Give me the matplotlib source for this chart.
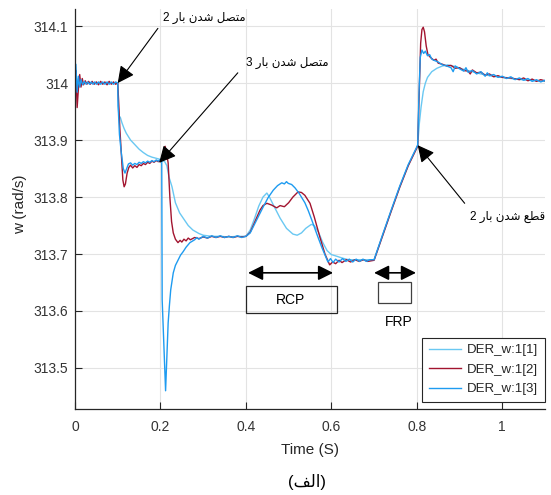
import matplotlib
matplotlib.use("Agg")
import matplotlib.pyplot as plt
from matplotlib.patches import Rectangle

# ---------------- data ----------------
t1 = [0, 0.002, 0.005, 0.008, 0.011, 0.015, 0.02, 0.03, 0.04, 0.05, 0.06, 0.07, 0.08, 0.09, 0.1,
      0.101, 0.103, 0.106, 0.11, 0.115, 0.12, 0.13, 0.14, 0.15, 0.16, 0.17, 0.18, 0.19, 0.2,
      0.21, 0.215, 0.22, 0.227, 0.235, 0.245, 0.255, 0.265, 0.276, 0.29, 0.30, 0.32, 0.34, 0.36, 0.38, 0.4,
      0.41, 0.42, 0.43, 0.44, 0.449, 0.455, 0.465, 0.48, 0.495, 0.51, 0.52, 0.53, 0.54, 0.553, 0.56,
      0.57, 0.58, 0.59, 0.6, 0.613, 0.625, 0.64, 0.66, 0.68, 0.7,
      0.72, 0.74, 0.76, 0.78, 0.8, 0.802,
      0.806, 0.81, 0.815, 0.82, 0.825, 0.835, 0.847, 0.86, 0.872, 0.89, 0.91, 0.93, 0.95, 0.97,
      1.0, 1.03, 1.06, 1.1]
w1 = [314.0, 314.02, 313.985, 314.008, 313.995, 314.003, 313.999, 314.001, 314.0, 314.001, 313.999, 314.0, 314.001, 313.999, 314.0,
      313.96, 313.942, 313.94, 313.93, 313.92, 313.912, 313.9, 313.892, 313.884, 313.878, 313.873, 313.870, 313.868, 313.866,
      313.862, 313.855, 313.835, 313.818, 313.79, 313.772, 313.761, 313.75, 313.742, 313.736, 313.733, 313.731, 313.731, 313.730, 313.731, 313.731,
      313.742, 313.762, 313.784, 313.800, 313.807, 313.80, 313.785, 313.763, 313.745, 313.735, 313.733, 313.737, 313.745, 313.752, 313.75,
      313.738, 313.72, 313.706, 313.699, 313.696, 313.693, 313.69, 313.690, 313.69, 313.69,
      313.733, 313.776, 313.818, 313.856, 313.887, 313.891,
      313.93, 313.958, 313.985, 314.0, 314.01, 314.02, 314.026, 314.03, 314.032, 314.029, 314.024, 314.02, 314.016, 314.013,
      314.01, 314.007, 314.005, 314.003]

t2 = [0, 0.002, 0.005, 0.008, 0.011, 0.014, 0.017, 0.02, 0.024, 0.028, 0.032, 0.036, 0.04, 0.045, 0.05,
      0.055, 0.06, 0.065, 0.07, 0.075, 0.08, 0.085, 0.09, 0.095, 0.1,
      0.102, 0.105, 0.108, 0.112, 0.115, 0.118, 0.122, 0.126, 0.13, 0.135, 0.14, 0.145, 0.15, 0.155,
      0.16, 0.165, 0.17, 0.175, 0.18, 0.185, 0.19, 0.195, 0.2, 0.204, 0.208, 0.211, 0.214, 0.218,
      0.222, 0.226, 0.23, 0.235, 0.241, 0.246, 0.25, 0.255, 0.26, 0.265, 0.27, 0.28, 0.29, 0.3,
      0.31, 0.32, 0.33, 0.34, 0.35, 0.36, 0.37, 0.38, 0.39, 0.4,
      0.41, 0.42, 0.433, 0.44, 0.449, 0.46, 0.472, 0.48, 0.49, 0.5, 0.51, 0.522, 0.53, 0.538, 0.545,
      0.55, 0.56, 0.573, 0.585, 0.596, 0.603, 0.61, 0.618, 0.625, 0.635, 0.645, 0.655, 0.665, 0.675, 0.685, 0.7,
      0.72, 0.74, 0.76, 0.78, 0.8, 0.802,
      0.806, 0.809, 0.812, 0.815, 0.818, 0.822, 0.826, 0.832, 0.84, 0.845, 0.85, 0.86, 0.87, 0.88,
      0.89, 0.9, 0.91, 0.92, 0.925, 0.93, 0.94, 0.95, 0.96, 0.97, 0.98, 0.99, 1.0, 1.02, 1.04,
      1.05, 1.06, 1.07, 1.08, 1.09, 1.1]
w2 = [314.0, 314.022, 313.957, 313.99, 314.015, 313.993, 314.008, 313.997, 314.004, 313.998, 314.003, 313.998, 314.003, 313.998, 314.002,
      313.997, 314.003, 313.998, 314.002, 313.997, 314.003, 313.998, 314.002, 313.998, 314.0,
      313.97, 313.92, 313.88, 313.83, 313.818, 313.823, 313.842, 313.852, 313.856, 313.851, 313.855, 313.852, 313.857, 313.855,
      313.859, 313.857, 313.861, 313.859, 313.863, 313.861, 313.864, 313.862, 313.865, 313.866, 313.884, 313.889, 313.878, 313.86,
      313.80, 313.757, 313.737, 313.726, 313.72, 313.724, 313.721, 313.726, 313.723, 313.728, 313.725, 313.729, 313.727, 313.73,
      313.728, 313.731, 313.729, 313.731, 313.729, 313.731, 313.729, 313.731, 313.73, 313.731,
      313.738, 313.755, 313.777, 313.785, 313.789, 313.786, 313.781, 313.785, 313.783, 313.79, 313.8, 313.809, 313.808, 313.803, 313.795,
      313.789, 313.765, 313.73, 313.70, 313.681, 313.686, 313.683, 313.689, 313.685, 313.69, 313.686, 313.69, 313.687, 313.69, 313.687, 313.689,
      313.732, 313.775, 313.817, 313.855, 313.886, 313.89,
      313.99, 314.07, 314.094, 314.098, 314.09, 314.065, 314.05, 314.045, 314.04, 314.042, 314.035, 314.033, 314.03, 314.031,
      314.026, 314.027, 314.022, 314.021, 314.016, 314.023, 314.018, 314.019, 314.014, 314.016, 314.011, 314.013, 314.01, 314.009, 314.006,
      314.009, 314.004, 314.007, 314.003, 314.006, 314.004]

t3 = [0, 0.002, 0.005, 0.008, 0.011, 0.014, 0.018, 0.022, 0.026, 0.03, 0.034, 0.038, 0.042, 0.046, 0.05,
      0.055, 0.06, 0.065, 0.07, 0.075, 0.08, 0.085, 0.09, 0.095, 0.1,
      0.101, 0.104, 0.108, 0.113, 0.117, 0.121, 0.125, 0.13, 0.135, 0.14, 0.145, 0.15, 0.155, 0.16,
      0.165, 0.17, 0.175, 0.18, 0.185, 0.19, 0.195, 0.2, 0.203,
      0.204, 0.212, 0.215, 0.218, 0.221, 0.224, 0.23, 0.235, 0.241, 0.247, 0.253, 0.26, 0.269,
      0.28, 0.285, 0.29, 0.3, 0.31, 0.32, 0.33, 0.34, 0.35, 0.36, 0.37, 0.38, 0.39, 0.4,
      0.41, 0.42, 0.43, 0.44, 0.452, 0.464, 0.474, 0.484, 0.49, 0.495, 0.499, 0.507, 0.515, 0.525, 0.538,
      0.546, 0.554, 0.566, 0.578, 0.592, 0.598, 0.604, 0.61, 0.618, 0.626, 0.634, 0.642, 0.65, 0.658,
      0.666, 0.674, 0.682, 0.69, 0.7,
      0.72, 0.74, 0.76, 0.78, 0.8, 0.802,
      0.805, 0.808, 0.812, 0.816, 0.82, 0.825, 0.83, 0.835, 0.84, 0.85, 0.86, 0.87, 0.88, 0.885,
      0.89, 0.9, 0.91, 0.915, 0.92, 0.93, 0.94, 0.95, 0.96, 0.965, 0.97, 0.98, 0.99, 1.0,
      1.01, 1.02, 1.03, 1.04, 1.05, 1.06, 1.07, 1.08, 1.09, 1.1]
w3 = [313.99, 314.033, 313.984, 314.012, 313.993, 314.006, 313.997, 314.003, 313.998, 314.002, 313.998, 314.002, 313.998, 314.002, 313.998,
      314.002, 313.998, 314.002, 313.998, 314.002, 313.998, 314.002, 313.998, 314.002, 314.0,
      313.96, 313.91, 313.88, 313.85, 313.842, 313.85, 313.858, 313.86, 313.856, 313.859, 313.857, 313.861, 313.859, 313.862,
      313.86, 313.863, 313.861, 313.864, 313.862, 313.865, 313.863, 313.866, 313.866,
      313.62, 313.46, 313.52, 313.579, 313.61, 313.637, 313.667, 313.68, 313.689, 313.698, 313.704, 313.712, 313.72,
      313.725, 313.729, 313.726, 313.731, 313.728, 313.732, 313.729, 313.732, 313.729, 313.731, 313.729, 313.732, 313.729, 313.731,
      313.737, 313.752, 313.767, 313.782, 313.799, 313.812, 313.82, 313.825, 313.823, 313.827, 313.824, 313.822, 313.816, 313.806, 313.79,
      313.776, 313.76, 313.735, 313.711, 313.686, 313.692, 313.685, 313.691, 313.686, 313.692, 313.687, 313.691, 313.686, 313.691,
      313.687, 313.691, 313.687, 313.69, 313.69,
      313.734, 313.777, 313.819, 313.857, 313.888, 313.891,
      313.98, 314.045, 314.058, 314.052, 314.056, 314.048, 314.05, 314.042, 314.04, 314.037, 314.032, 314.03, 314.027, 314.02,
      314.03, 314.025, 314.021, 314.027, 314.019, 314.022, 314.016, 314.02, 314.012, 314.018, 314.013, 314.015, 314.01, 314.012,
      314.008, 314.011, 314.006, 314.009, 314.005, 314.008, 314.003, 314.006, 314.002, 314.005]

series_labels = ["DER_w:1[1]", "DER_w:1[2]", "DER_w:1[3]"]
x_ticks = [0, 0.2, 0.4, 0.6, 0.8, 1.0]
x_tick_labels = ["0", "0.2", "0.4", "0.6", "0.8", "1"]
y_ticks = [313.5, 313.6, 313.7, 313.8, 313.9, 314.0, 314.1]
y_tick_labels = ["313.5", "313.6", "313.7", "313.8", "313.9", "314", "314.1"]

# Persian texts (Arabic presentation forms, visual order)
txt_bus2_on = "2 \uFEAD\uFE8E\uFE91 \uFEE5\uFEAA\uFEB7 \uFEDE\uFEBC\uFE98\uFEE3"   # متصل شدن بار 2
txt_bus3_on = "3 \uFEAD\uFE8E\uFE91 \uFEE5\uFEAA\uFEB7 \uFEDE\uFEBC\uFE98\uFEE3"   # متصل شدن بار 3
txt_bus2_off = "2 \uFEAD\uFE8E\uFE91 \uFEE5\uFEAA\uFEB7 \uFECA\uFEC4\uFED7"        # قطع شدن بار 2
txt_caption = "(\uFED2\uFEDF\uFE8D)"                                                # (الف)

# ---------------- figure ----------------
FAM = ["Liberation Sans", "DejaVu Sans"]
plt.rcParams["font.family"] = FAM

fig = plt.figure(figsize=(5.51, 4.95), dpi=100)
ax = fig.add_axes([75/551, 1-409/495, (545-75)/551, 400/495])

c1, c2, c3 = "#6ac8f2", "#a2142f", "#1e9bf0"
ax.plot(t1, w1, color=c1, lw=1.0, label=series_labels[0])
ax.plot(t2, w2, color=c2, lw=1.0, label=series_labels[1])
ax.plot(t3, w3, color=c3, lw=1.0, label=series_labels[2])

ax.set_xlim(0, 1.1)
ax.set_ylim(313.428, 314.13)
ax.set_xticks(x_ticks)
ax.set_xticklabels(x_tick_labels)
ax.set_yticks(y_ticks)
ax.set_yticklabels(y_tick_labels)
ax.grid(True, color="#e3e3e3", lw=0.8)
ax.set_axisbelow(True)
for s in ["top", "right"]:
    ax.spines[s].set_visible(False)
for s in ["left", "bottom"]:
    ax.spines[s].set_color("#262626")
    ax.spines[s].set_linewidth(0.9)
ax.tick_params(axis="both", direction="in", length=5, width=0.8, colors="#262626",
               labelsize=10, labelcolor="#333333")
ax.tick_params(axis="x", pad=8)
ax.tick_params(axis="y", pad=5)

fig.text(310/551, 1-450/495, "Time (S)", ha="center", va="center", fontsize=11, color="#262626")
fig.text(20/551, 1-204/495, "w (rad/s)", ha="center", va="center", rotation=90, fontsize=11, color="#262626")
fig.text(307/551, 1-482/495, txt_caption, ha="center", va="center", fontsize=12, color="black")

# annotations
aprops = dict(arrowstyle="-|>,head_length=0.6,head_width=0.3", color="black", lw=0.8,
              mutation_scale=17, shrinkA=0, shrinkB=0)
ax.annotate("", xy=(0.1, 314.0), xytext=(0.194, 314.096), arrowprops=aprops)
ax.text(0.302, 314.114, txt_bus2_on, ha="center", va="center", fontsize=8.5, family=FAM)
ax.annotate("", xy=(0.197, 313.86), xytext=(0.381, 314.018), arrowprops=aprops)
ax.text(0.496, 314.035, txt_bus3_on, ha="center", va="center", fontsize=8.5, family=FAM)
ax.annotate("", xy=(0.802, 313.891), xytext=(0.912, 313.789), arrowprops=aprops)
ax.text(1.012, 313.765, txt_bus2_off, ha="center", va="center", fontsize=8.5, family=FAM)

dprops = dict(arrowstyle="<|-|>,head_length=0.6,head_width=0.3", color="black", lw=1.2,
              mutation_scale=15, shrinkA=0, shrinkB=0)
ax.annotate("", xy=(0.405, 313.667), xytext=(0.604, 313.667), arrowprops=dprops)
ax.add_patch(Rectangle((0.4, 313.596), 0.213, 0.048, fill=False, ec="#262626", lw=0.9))
ax.text(0.505, 313.619, "RCP", ha="center", va="center", fontsize=10)
ax.annotate("", xy=(0.7, 313.667), xytext=(0.798, 313.667), arrowprops=dprops)
ax.add_patch(Rectangle((0.709, 313.614), 0.077, 0.037, fill=False, ec="#404040", lw=0.9))
ax.text(0.758, 313.58, "FRP", ha="center", va="center", fontsize=10)

leg = ax.legend(loc="lower right", bbox_to_anchor=(1.0, 7/400), borderaxespad=0,
                fontsize=9.5, handlelength=2.4, labelspacing=0.55, fancybox=False,
                framealpha=1, edgecolor="#262626", borderpad=0.5, handletextpad=0.5)
leg.get_frame().set_linewidth(0.8)
for txt in leg.get_texts():
    txt.set_color("#262626")

fig.savefig("out.png", dpi=100)
